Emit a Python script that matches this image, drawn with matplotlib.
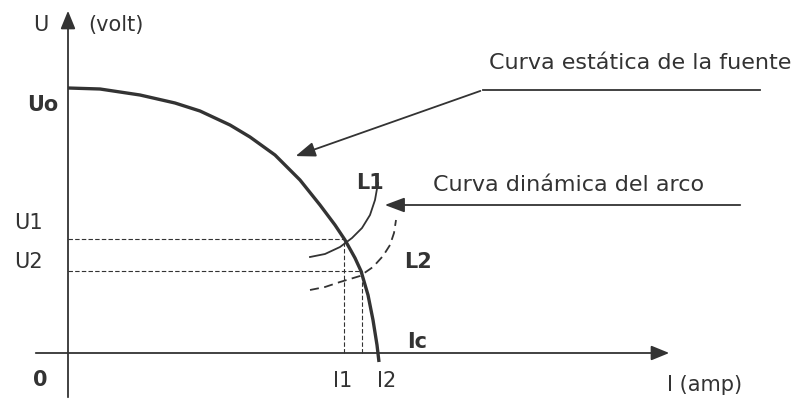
import numpy as np
import matplotlib.pyplot as plt

# courbe statique de la source, I en x, U en y
I_static = [0, 32, 72, 107, 132, 162, 182, 207, 232, 252, 267, 277, 287, 293, 300, 305, 309, 311]
U_static = [265, 264, 258, 250, 242, 228, 216, 198, 173, 148, 128, 113, 95, 82, 58, 33, 8, -9]

# courbes dynamiques de l'arc
I_L1 = [242, 257, 272, 284, 294, 302, 307, 310]
U_L1 = [96, 99, 106, 115, 125, 138, 153, 170]
I_L2 = [242, 257, 272, 292, 305, 315, 322, 326, 328]
U_L2 = [63, 66, 71, 77, 86, 97, 108, 120, 133]

U1, U2 = 114, 82
I1, I2 = 276, 294

col = '#333333'
plt.rcParams['font.family'] = ['DejaVu Sans']

fig = plt.figure(figsize=(8.03, 4.01), dpi=100)
ax = fig.add_axes([0, 0, 1, 1])
ax.set_xlim(-68, 735)
ax.set_ylim(-48, 353)
ax.axis('off')

# axes
ax.annotate('', xy=(604, 0), xytext=(-35, 0),
            arrowprops=dict(arrowstyle='-|>,head_length=1.1,head_width=0.45', color=col, lw=1.3))
ax.annotate('', xy=(0, 345), xytext=(0, -47),
            arrowprops=dict(arrowstyle='-|>,head_length=1.1,head_width=0.45', color=col, lw=1.3))

# courbes
ax.plot(I_static, U_static, color=col, lw=2.4, solid_capstyle='butt')
ax.plot(I_L1, U_L1, color=col, lw=1.3)
ax.plot(I_L2, U_L2, color=col, lw=1.3, ls=(0, (5, 3)))

# pointillés
ax.plot([0, I1], [U1, U1], color=col, lw=0.8, ls=(0, (4, 2)))
ax.plot([0, I2], [U2, U2], color=col, lw=0.8, ls=(0, (4, 2)))
ax.plot([I1, I1], [0, U1], color=col, lw=0.8, ls=(0, (4, 2)))
ax.plot([I2, I2], [0, U2], color=col, lw=0.8, ls=(0, (4, 2)))

# flèches des légendes
ax.plot([692, 415], [263, 263], color=col, lw=1.3)
ax.annotate('', xy=(225, 196), xytext=(415, 263),
            arrowprops=dict(arrowstyle='-|>,head_length=1.2,head_width=0.45', color=col, lw=1.3))
ax.annotate('', xy=(314, 148), xytext=(675, 148),
            arrowprops=dict(arrowstyle='-|>,head_length=1.2,head_width=0.45', color=col, lw=1.3))

fs = 15
ax.text(-27, 328, 'U', fontsize=fs, color=col, ha='center', va='center')
ax.text(48, 328, '(volt)', fontsize=fs, color=col, ha='center', va='center')
ax.text(-25, 248, 'Uo', fontsize=fs, color=col, ha='center', va='center', fontweight='bold')
ax.text(-40, 130, 'U1', fontsize=fs, color=col, ha='center', va='center')
ax.text(-40, 91, 'U2', fontsize=fs, color=col, ha='center', va='center')
ax.text(-28, -27, '0', fontsize=fs, color=col, ha='center', va='center', fontweight='bold')
ax.text(275, -28, 'I1', fontsize=fs, color=col, ha='center', va='center')
ax.text(319, -28, 'I2', fontsize=fs, color=col, ha='center', va='center')
ax.text(637, -32, 'I (amp)', fontsize=fs, color=col, ha='center', va='center')
ax.text(349, 11, 'Ic', fontsize=fs, color=col, ha='center', va='center', fontweight='bold')
ax.text(350, 91, 'L2', fontsize=fs, color=col, ha='center', va='center', fontweight='bold')
ax.text(302, 170, 'L1', fontsize=fs, color=col, ha='center', va='center', fontweight='bold')
ax.text(572, 290, 'Curva estática de la fuente', fontsize=16, color=col, ha='center', va='center')
ax.text(501, 168, 'Curva dinámica del arco', fontsize=16, color=col, ha='center', va='center')

plt.savefig('out.png', dpi=100)
